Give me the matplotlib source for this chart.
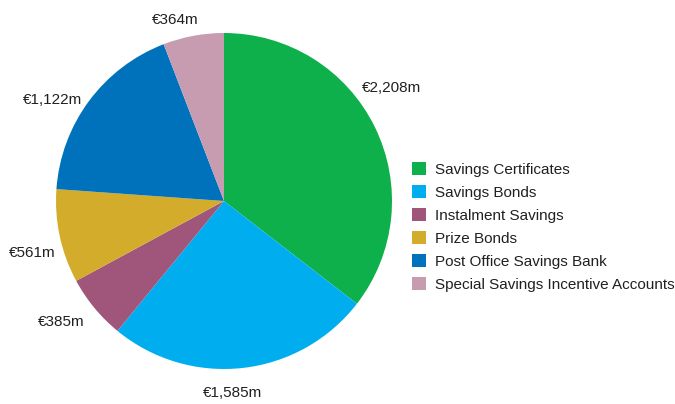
import matplotlib
matplotlib.use("Agg")
import matplotlib.pyplot as plt
import numpy as np

categories = [
    "Savings Certificates",
    "Savings Bonds",
    "Instalment Savings",
    "Prize Bonds",
    "Post Office Savings Bank",
    "Special Savings Incentive Accounts",
]
values = [2208, 1585, 385, 561, 1122, 364]
value_labels = ["€2,208m", "€1,585m", "€385m", "€561m", "€1,122m", "€364m"]
colors = ["#0db04b", "#00aeef", "#a0567a", "#d4ac2c", "#0072bc", "#c89cb0"]

# label anchor points in axes units (pie radius = 1)
label_xy = [(1.0, 0.67), (0.05, -1.14), (-0.97, -0.72), (-1.14, -0.31), (-1.02, 0.6), (-0.29, 1.08)]

plt.rcParams["font.family"] = ["Liberation Sans", "DejaVu Sans"]

W, H = 675, 404
fig = plt.figure(figsize=(W / 100, H / 100), dpi=100)
cx, cy, r = 224, 201, 168
ax = fig.add_axes([(cx - r) / W, (H - cy - r) / H, 2 * r / W, 2 * r / H])

wedges, _ = ax.pie(values, colors=colors, startangle=90, counterclock=False,
                   radius=1, wedgeprops=dict(linewidth=0))
ax.set_xlim(-1, 1)
ax.set_ylim(-1, 1)
ax.set_aspect("equal")
ax.axis("off")

for txt, (x, y) in zip(value_labels, label_xy):
    ax.text(x, y, txt, ha="center", va="center", fontsize=11, color="#231f20",
            clip_on=False)

fig.legend(wedges, categories, loc="upper left",
           bbox_to_anchor=(406 / W, 1 - 156 / H), frameon=False,
           fontsize=11, handlelength=0.9, handleheight=0.9,
           handletextpad=0.6, labelspacing=0.55, borderaxespad=0,
           labelcolor="#231f20")

fig.savefig("out.png", dpi=100)
